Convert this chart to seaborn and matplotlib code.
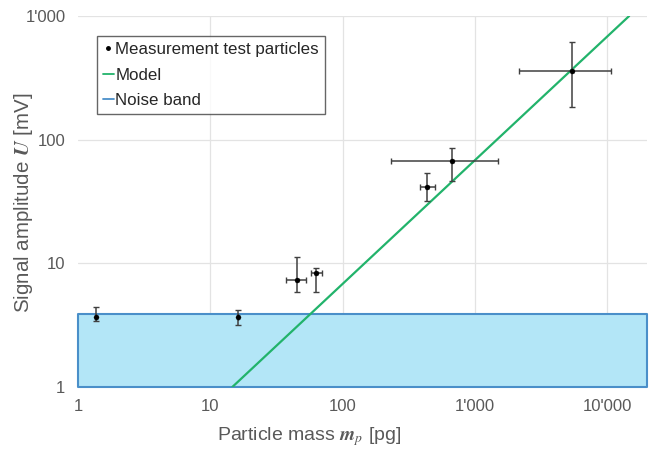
import numpy as np
import pandas as pd
import matplotlib
matplotlib.use("Agg")
import matplotlib.pyplot as plt
import seaborn as sns
from matplotlib.lines import Line2D
from matplotlib.ticker import FixedLocator, FixedFormatter, NullLocator

# Data
mass = [1.38, 16.3, 44.9, 63.5, 435, 668, 5385]
signal = [3.70, 3.70, 7.29, 8.30, 41.6, 66.8, 359]
mass_lo = [1.38, 16.3, 37.3, 57.6, 382, 233, 2163]
mass_hi = [1.38, 16.3, 52.7, 69.7, 497, 1484, 10660]
signal_lo = [3.44, 3.17, 5.89, 5.89, 31.9, 46.3, 184]
signal_hi = [4.46, 4.19, 11.2, 9.21, 54.0, 86.0, 612]

model_mass = [14.7, 14650]
model_signal = [1, 1000]

noise_low = 1
noise_high = 3.9
noise_xmin = 1
noise_xmax = 20000

xticks = [1, 10, 100, 1000, 10000]
xticklabels = ["1", "10", "100", "1'000", "10'000"]
yticks = [1, 10, 100, 1000]
yticklabels = ["1", "10", "100", "1'000"]

sns.set_theme(style="white")
plt.rcParams['font.family'] = ['Liberation Sans', 'DejaVu Sans']
plt.rcParams['mathtext.fontset'] = 'stix'

fig = plt.figure(figsize=(6.49, 4.51), dpi=100)
ax = fig.add_axes([0.120, 0.142, 0.877, 0.8225])

ax.set_xscale('log')
ax.set_yscale('log')
ax.set_xlim(1, 20000)
ax.set_ylim(1, 1000)

# grid
for t in xticks[1:]:
    ax.axvline(t, color='#e3e3e3', lw=0.9, zorder=0)
for t in yticks[1:]:
    ax.axhline(t, color='#e3e3e3', lw=0.9, zorder=0)

# noise band
ax.fill_between([noise_xmin, noise_xmax], [noise_low, noise_low], [noise_high, noise_high],
                facecolor='#b3e6f7', edgecolor='#4a8fc9', lw=1.5, zorder=1, clip_on=False)

# model line
dfm = pd.DataFrame({'m': model_mass, 'U': model_signal})
sns.lineplot(data=dfm, x='m', y='U', color='#22b36b', lw=1.6, ax=ax, zorder=2)

# error bars
m = np.array(mass); s = np.array(signal)
xerr = [m - np.array(mass_lo), np.array(mass_hi) - m]
yerr = [s - np.array(signal_lo), np.array(signal_hi) - s]
ax.errorbar(m, s, xerr=xerr, yerr=yerr, fmt='none', ecolor='#404040', elinewidth=1.1,
            capsize=2.0, capthick=1.0, zorder=3)
df = pd.DataFrame({'m': mass, 'U': signal})
sns.scatterplot(data=df, x='m', y='U', color='black', s=13, edgecolor='black', ax=ax, zorder=4)

ax.xaxis.set_major_locator(FixedLocator(xticks))
ax.xaxis.set_major_formatter(FixedFormatter(xticklabels))
ax.xaxis.set_minor_locator(NullLocator())
ax.yaxis.set_major_locator(FixedLocator(yticks))
ax.yaxis.set_major_formatter(FixedFormatter(yticklabels))
ax.yaxis.set_minor_locator(NullLocator())
ax.tick_params(axis='both', length=0, labelsize=12, labelcolor='#595959', pad=9)

for sp in ax.spines.values():
    sp.set_visible(False)

ax.set_xlabel(r"Particle mass $\boldsymbol{m}_p$ [pg]", fontsize=14, color='#595959')
ax.set_ylabel(r"Signal amplitude $\boldsymbol{U}$ [mV]", fontsize=14.8, color='#595959')
ax.xaxis.label.set_va('center')
ax.yaxis.label.set_va('center')
ax.xaxis.set_label_coords(0.406, -0.135)
ax.yaxis.set_label_coords(-0.096, 0.496)

handles = [
    Line2D([], [], marker='o', markersize=2.5, color='black', linestyle='none'),
    Line2D([], [], color='#22b36b', lw=1.3),
    Line2D([], [], color='#4a8fc9', lw=1.3),
]
labels = ["Measurement test particles", "Model", "Noise band"]
leg = ax.legend(handles, labels, loc='upper left', bbox_to_anchor=(0.033, 0.945),
                borderaxespad=0, fontsize=12.2, frameon=True, fancybox=False,
                handlelength=0.65, handletextpad=0.1, borderpad=0.35, labelspacing=0.6)
leg.get_frame().set_edgecolor('#404040')
leg.get_frame().set_linewidth(1.0)
for t in leg.get_texts():
    t.set_color('#262626')

fig.savefig("out.png", dpi=100)
